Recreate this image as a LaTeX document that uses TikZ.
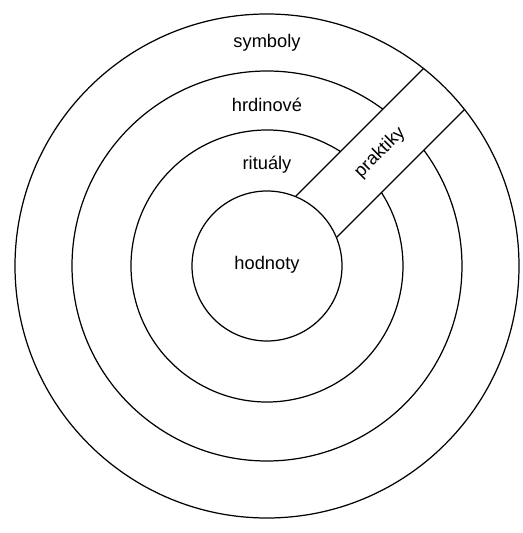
\documentclass[tikz,border=0pt]{standalone}
\usepackage{fontspec}
\setmainfont{Liberation Sans}
\usepackage{tikz}
\tikzset{
  ring/.style    = {draw=black, line width=0.7pt},
  layer/.style   = {font=\fontsize{10.4}{12}\selectfont, inner sep=1pt},
  bandline/.style = {black, line width=0.7pt}
}

\begin{document}
\begin{tikzpicture}[x=0.2mm,y=0.2mm]
  \useasboundingbox (0,0) rectangle (523,533);
  \coordinate (C) at (267,267);
  % whole circles: core and outer skin
  \draw[ring] (C) circle[radius=75];
  \draw[ring] (C) circle[radius=252];
  % middle rings, cut by the band of practices
  \begin{scope}[shift={(C)}, rotate=45]
    \foreach \r in {136,195} {
      \pgfmathsetmacro\gap{asin(29/\r)}
      \draw[ring] (\gap:\r) arc[start angle=\gap, end angle=360-\gap, radius=\r];
    }
    \coordinate (bu1) at (69.2,29);   \coordinate (bu2) at (250.3,29);
    \coordinate (bl1) at (69.2,-29);  \coordinate (bl2) at (250.3,-29);
    \draw[bandline] (bu1) -- (bu2);
    \draw[bandline] (bl1) -- (bl2);
    \node[layer, rotate=45] (prak) at (160,0) {praktiky};
  \end{scope}
  \node[layer] (sym) at (267,490) {symboly};
  \node[layer] (hrd) at (267,428) {hrdinové};
  \node[layer] (rit) at (267,368) {rituály};
  \node[layer] (hod) at (267,268) {hodnoty};
\end{tikzpicture}
\end{document}
